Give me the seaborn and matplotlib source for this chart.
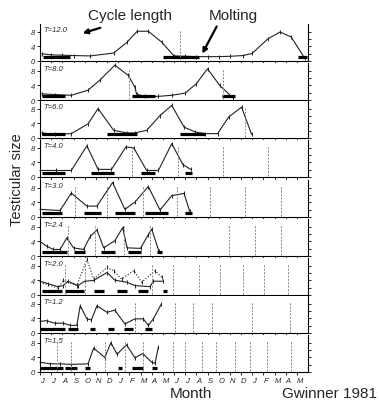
import matplotlib
matplotlib.use("Agg")
import matplotlib.pyplot as plt
import seaborn as sns
import pandas as pd
import numpy as np

sns.set_style("white")
plt.rcParams['font.family'] = ['Liberation Sans', 'DejaVu Sans']

# ---- data (x in months from start of June, y = testicular size) ----
month_labels = ["J", "J", "A", "S", "O", "N", "D", "J", "F", "M", "A", "M",
                "J", "J", "A", "S", "O", "N", "D", "J", "F", "M", "A", "M"]
panel_labels = ["T=12.0", "T=8.0", "T=6.0", "T=4.0", "T=3.0", "T=2.4", "T=2.0", "T=1.2", "T=1.5"]

t120_x = [0.15, 1.0, 2.0, 3.0, 4.5, 6.6, 7.8, 8.7, 9.7, 10.9, 12.0, 13.0, 14.0, 15.0, 16.0, 17.0, 18.2, 19.0, 20.4, 21.5, 22.5, 23.7]
t120_y = [2.0, 1.7, 1.6, 1.5, 1.4, 2.2, 5.2, 8.2, 8.2, 5.2, 1.4, 1.3, 1.2, 1.2, 1.2, 1.3, 1.5, 2.1, 6.1, 8.0, 6.6, 0.8]
t80_x = [0.15, 1.3, 2.8, 4.3, 5.4, 6.7, 7.9, 8.5, 8.65, 9.4, 10.6, 11.8, 13.0, 14.0, 15.0, 16.1, 17.3]
t80_y = [1.7, 1.5, 1.3, 2.7, 5.6, 9.6, 6.8, 3.5, 1.6, 1.0, 1.0, 1.3, 1.9, 4.5, 8.6, 4.0, 0.55]
t60_x = [0.15, 1.3, 2.8, 4.3, 5.2, 6.6, 7.8, 8.5, 9.55, 10.75, 11.8, 12.9, 13.9, 14.8, 15.9, 16.9, 18.05, 18.95]
t60_y = [1.4, 1.0, 1.2, 3.9, 8.1, 2.1, 1.4, 1.4, 2.1, 6.2, 9.0, 3.0, 1.65, 1.2, 1.2, 5.8, 8.5, 1.0]
t40_x = [0.0, 1.4, 2.8, 4.2, 5.2, 6.4, 7.7, 8.4, 9.55, 10.6, 11.8, 12.8, 13.5]
t40_y = [1.8, 1.8, 1.8, 8.6, 2.1, 2.1, 8.3, 8.0, 1.8, 1.8, 9.2, 3.4, 2.1]
t30_x = [0.0, 1.8, 2.8, 4.2, 5.1, 6.5, 7.6, 8.5, 9.7, 10.75, 11.8, 12.9, 13.4]
t30_y = [2.1, 1.8, 6.6, 3.0, 3.0, 9.5, 2.1, 4.1, 8.4, 1.9, 5.9, 6.5, 1.6]
t24_x = [0.0, 0.6, 1.2, 1.8, 2.4, 3.0, 3.9, 4.5, 5.1, 5.7, 6.7, 7.4, 7.8, 9.0, 9.7, 10.0, 10.65]
t24_y = [4.0, 2.7, 1.8, 1.8, 5.0, 2.25, 1.8, 5.4, 7.2, 2.25, 4.2, 7.8, 2.25, 2.1, 5.9, 7.4, 1.35]
t20_x = [0.0, 0.75, 1.6, 2.1, 2.5, 3.4, 4.0, 4.8, 6.0, 6.7, 7.8, 8.5, 9.85, 10.15, 11.05]
t20_y = [3.8, 3.1, 2.3, 2.6, 3.8, 2.6, 3.8, 4.0, 6.2, 4.1, 3.5, 2.6, 2.3, 3.8, 3.8]
t20b_x = [0.0, 1.6, 2.1, 3.3, 4.2, 4.8, 6.0, 6.6, 7.3, 8.4, 9.1, 10.3, 10.9]
t20b_y = [3.5, 1.9, 4.0, 2.6, 9.8, 4.4, 7.6, 6.7, 4.4, 6.7, 3.5, 6.7, 4.9]
t12_x = [0.0, 0.6, 1.3, 2.1, 2.7, 3.3, 3.6, 4.2, 4.6, 5.1, 6.0, 6.7, 7.6, 8.5, 9.25, 9.7, 10.15, 10.85]
t12_y = [3.2, 3.4, 2.7, 2.7, 2.1, 2.1, 7.5, 3.9, 3.6, 7.5, 5.7, 6.3, 2.5, 3.9, 3.9, 2.1, 3.9, 7.9]
t15_x = [0.0, 0.9, 1.8, 2.8, 4.3, 4.8, 5.8, 6.35, 6.9, 7.75, 8.5, 9.2, 10.0, 10.3, 10.6]
t15_y = [2.7, 2.25, 2.25, 2.1, 2.25, 6.6, 4.0, 8.1, 4.9, 7.5, 3.9, 5.1, 2.7, 2.4, 6.9]

# molting periods (start, end) in months
molt_120 = [(0.3, 2.7), (11.0, 14.2), (23.1, 23.9)]
molt_80 = [(0.15, 2.2), (8.2, 10.3), (16.3, 17.5)]
molt_60 = [(0.15, 2.2), (6.0, 8.7), (12.5, 14.8)]
molt_40 = [(0.15, 2.2), (4.6, 6.6), (9.0, 10.3), (13.0, 13.6)]
molt_30 = [(0.15, 2.0), (3.9, 5.5), (6.7, 8.5), (9.4, 11.5), (13.0, 13.6)]
molt_24 = [(0.15, 2.4), (3.0, 4.0), (5.5, 6.7), (7.85, 9.05), (10.45, 10.9)]
molt_20 = [(0.15, 1.95), (2.2, 3.9), (4.8, 5.7), (6.9, 7.8), (8.8, 9.7), (11.05, 11.4)]
molt_12 = [(0.0, 2.2), (2.5, 3.4), (4.5, 4.9), (6.1, 6.6), (7.55, 8.35), (9.4, 10.0)]
molt_15 = [(0.0, 2.1), (2.2, 3.3), (4.0, 4.5), (7.0, 7.3), (8.2, 9.25), (10.0, 10.45)]

# vertical marker lines (cycle boundaries)
vl_120 = [12.5]
vl_80 = [8.0, 16.4]
vl_60 = [18.4]
vl_40 = [8.2, 12.4, 16.4, 20.4]
vl_30 = [3.1, 6.0, 9.2, 12.3, 15.2, 18.4, 21.6]
vl_24 = [2.5, 4.9, 7.5, 9.85, 16.9, 19.25, 21.6]
vl_20 = [2.2, 4.0, 10.0, 11.9, 14.2, 16.1, 18.2, 20.1, 22.2]
vl_12 = [8.5, 12.1, 13.7, 15.4, 19.0, 22.4]
vl_15 = [1.5, 2.8, 5.8, 7.6, 9.25, 11.9, 13.0, 14.5, 15.8, 17.5, 18.8, 20.3, 22.5]

curves = [[(t120_x, t120_y)], [(t80_x, t80_y)], [(t60_x, t60_y)], [(t40_x, t40_y)],
          [(t30_x, t30_y)], [(t24_x, t24_y)], [(t20_x, t20_y), (t20b_x, t20b_y)],
          [(t12_x, t12_y)], [(t15_x, t15_y)]]
molts = [molt_120, molt_80, molt_60, molt_40, molt_30, molt_24, molt_20, molt_12, molt_15]
vlines = [vl_120, vl_80, vl_60, vl_40, vl_30, vl_24, vl_20, vl_12, vl_15]

# ---- figure ----
W, H = 380, 402
fig = plt.figure(figsize=(W / 100, H / 100), dpi=100)
baselines = [62, 101, 139, 178, 218, 257, 296, 334, 373]
ax_left, ax_right = 40, 308
ax_h = 37

axes = []
for i, base in enumerate(baselines):
    ax = fig.add_axes([ax_left / W, 1 - base / H, (ax_right - ax_left) / W, ax_h / H])
    axes.append(ax)
    for j, (xs, ys) in enumerate(curves[i]):
        df = pd.DataFrame({"month": xs, "size": ys})
        sns.lineplot(data=df, x="month", y="size", ax=ax, color="#222222",
                     linewidth=0.8, linestyle="-" if j == 0 else ":",
                     marker="|", markersize=3, markeredgewidth=0.7,
                     markeredgecolor="#222222", clip_on=False)
    for (s, e) in molts[i]:
        ax.plot([s, e], [1.1, 1.1], color="black", linewidth=2.3,
                solid_capstyle="butt", clip_on=False)
    for v in vlines[i]:
        ax.plot([v, v], [0.3, 8.5], color="#888888", linewidth=0.7,
                linestyle=(0, (2, 1.5)))
    ax.set_xlim(0, 24)
    ax.set_ylim(0, 10.2)
    ax.set_xlabel("")
    ax.set_ylabel("")
    ax.spines["top"].set_visible(False)
    for sp in ["left", "right", "bottom"]:
        ax.spines[sp].set_linewidth(0.8)
        ax.spines[sp].set_color("black")
    ax.set_yticks([0, 4, 8])
    ax.set_yticklabels(["0", "4", "8"], fontsize=5.5, style="italic")
    ax.tick_params(axis="y", which="major", left=True, length=2.5, width=0.7, pad=1)
    ax.set_xticks(np.arange(0, 24, 1))
    ax.tick_params(axis="x", which="major", bottom=True, length=2.5, width=0.7,
                   direction="out", pad=1)
    if i == len(baselines) - 1:
        ax.set_xticklabels(month_labels, fontsize=5.5, style="italic", ha="left")
    else:
        ax.set_xticklabels([])
    # right-side tick marks
    ax2 = ax.twinx()
    ax2.set_ylim(0, 10.2)
    ax2.set_yticks([0, 2, 4, 6, 8])
    ax2.set_yticklabels([])
    ax2.tick_params(axis="y", right=True, length=2.5, width=0.7, direction="out")
    for sp in ax2.spines.values():
        sp.set_visible(False)
    ax.text(0.3, 8.6, panel_labels[i], fontsize=5.5, style="italic", va="center", ha="left")

# annotations
fig.text(130 / W, 1 - 16 / H, "Cycle length", fontsize=11, ha="center", va="center")
fig.text(233 / W, 1 - 16 / H, "Molting", fontsize=11, ha="center", va="center")
fig.add_artist(matplotlib.patches.FancyArrowPatch(
    (103 / W, 1 - 28 / H), (80 / W, 1 - 35 / H), transform=fig.transFigure,
    arrowstyle="-|>", mutation_scale=7, linewidth=1.6, color="black"))
fig.add_artist(matplotlib.patches.FancyArrowPatch(
    (218 / W, 1 - 25 / H), (201 / W, 1 - 57 / H), transform=fig.transFigure,
    arrowstyle="-|>", mutation_scale=7, linewidth=1.6, color="black"))
fig.text(17 / W, 1 - 180 / H, "Testicular size", fontsize=10.5, rotation=90,
         ha="center", va="center")
fig.text(191 / W, 1 - 394 / H, "Month", fontsize=11, ha="center", va="center")
fig.text(330 / W, 1 - 394 / H, "Gwinner 1981", fontsize=11, ha="center", va="center")

fig.savefig("out.png", dpi=100)
